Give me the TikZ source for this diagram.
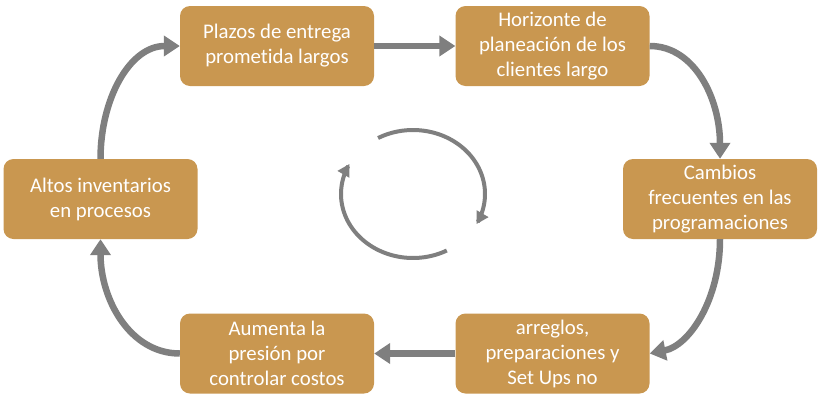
\documentclass[tikz,border=0pt]{standalone}
\usepackage{fontspec}
\setmainfont{Carlito}[Ligatures={NoCommon}]
\usetikzlibrary{arrows.meta}
\definecolor{boxfill}{RGB}{201,151,80}
\definecolor{arrowgray}{RGB}{127,127,127}
\tikzset{
  box/.style={draw=none, fill=boxfill, rounded corners=10pt, minimum width=194pt,
    minimum height=80pt, inner sep=0pt, align=center, text=white,
    font=\fontsize{20.8pt}{25pt}\selectfont},
  flow/.style={draw=arrowgray, line width=6.5pt, -{Triangle[width=20pt,length=16pt]}},
  cyc/.style={draw=arrowgray, line width=4pt, -{Triangle[width=13pt,length=12pt]}}
}
\begin{document}
\begin{tikzpicture}[x=1pt,y=-1pt]
\useasboundingbox (0,0) rectangle (822,402);
\node[box] (p) at (277,46) {Plazos de entrega\\prometida largos};
\node[box] (h) at (552.5,46) {Horizonte de\\planeación de los\\clientes largo};
\node[box] (c) at (720,199) {Cambios\\frecuentes en las\\programaciones};
\node[box] (r) at (552.5,353.5) {arreglos,\\preparaciones y\\Set Ups no};
\node[box] (a) at (277,353.5) {Aumenta la\\presión por\\controlar costos};
\node[box] (l) at (100.5,199) {Altos inventarios\\en procesos};
\draw[flow] (p.east) -- (h.west);
\draw[flow] (h.east) .. controls +(45,0) and +(0,-60) .. (c.north);
\draw[flow] (c.south) .. controls +(0,60) and +(40,-8) .. (r.east);
\draw[flow] (r.west) -- (a.east);
\draw[flow] (a.west) .. controls +(-50,0) and +(0,60) .. (l.south);
\draw[flow] (l.north) .. controls +(0,-60) and +(-50,0) .. (p.west);
\draw[cyc] plot[domain=-119:28, samples=60, smooth] ({413+72*cos(\x)},{194+64*sin(\x)});
\draw[cyc] plot[domain=62:208, samples=60, smooth] ({413+72*cos(\x)},{194+64*sin(\x)});
\end{tikzpicture}
\end{document}
